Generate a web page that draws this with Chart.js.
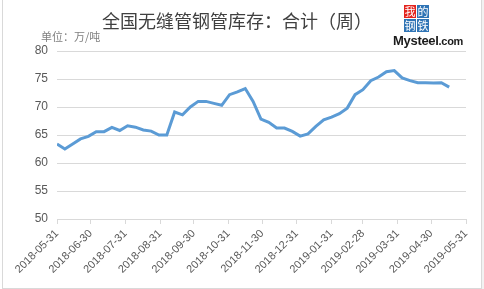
<!DOCTYPE html>
<html>
<head>
<meta charset="utf-8">
<script src="https://cdn.jsdelivr.net/npm/chart.js@4"></script>
<style>
  html, body { margin: 0; padding: 0; background: #fff; }
  #wrap { position: relative; width: 484px; height: 289px; overflow: hidden; }
  #frame { position: absolute; left: 2px; top: -1px; width: 478px; height: 288px; border: 1px solid #d9d9d9; }
  #side { position: absolute; left: 482px; top: 0; width: 2px; height: 289px; background: #f2f2f2; }
  #title { position: absolute; left: 0; width: 474px; top: 7px; text-align: center;
           font: 18px "Noto Sans CJK SC"; color: #404040; }
  #unit { position: absolute; left: 41px; top: 28px; font: 11px "Noto Sans CJK SC"; color: #7f7f7f; }
  #logo { position: absolute; left: 393px; top: 3px; width: 70px; height: 48px; }
  .sq { position: absolute; width: 12px; height: 13px; color: #fff; font: 11px/13px "Noto Sans CJK SC";
        text-align: center; }
  #brand { position: absolute; left: 0; top: 30px; font: bold 13px "Liberation Sans"; color: #1a1a1a; letter-spacing: -0.3px; }
  #brand span { font-size: 11px; }
  canvas { position: absolute; left: 0; top: 0; }
</style>
</head>
<body>
<div id="wrap">
  <div id="frame"></div>
  <div id="side"></div>
  <canvas id="chart" width="484" height="289"></canvas>
  <div id="title">全国无缝管钢管库存：合计（周）</div>
  <div id="unit">单位：万/吨</div>
  <div id="logo">
    <div class="sq" style="left:11px;top:2px;background:#e3231d">我</div>
    <div class="sq" style="left:24px;top:2px;background:#2f74b5">的</div>
    <div class="sq" style="left:11px;top:16px;background:#2f74b5">钢</div>
    <div class="sq" style="left:24px;top:16px;background:#2f74b5">铁</div>
    <div id="brand">Mysteel<span>.com</span></div>
  </div>
</div>
<script>
// weekly inventory, 万吨
const dates = [
  '2018-05-31', '2018-06-07', '2018-06-14', '2018-06-21', '2018-06-28',
  '2018-07-05', '2018-07-12', '2018-07-19', '2018-07-26', '2018-08-02',
  '2018-08-09', '2018-08-16', '2018-08-23', '2018-08-30', '2018-09-06',
  '2018-09-13', '2018-09-20', '2018-09-27', '2018-10-04', '2018-10-11',
  '2018-10-18', '2018-10-25', '2018-11-01', '2018-11-08', '2018-11-15',
  '2018-11-22', '2018-11-29', '2018-12-06', '2018-12-13', '2018-12-20',
  '2018-12-27', '2019-01-03', '2019-01-10', '2019-01-17', '2019-01-24',
  '2019-01-31', '2019-02-07', '2019-02-14', '2019-02-21', '2019-02-28',
  '2019-03-07', '2019-03-14', '2019-03-21', '2019-03-28', '2019-04-04',
  '2019-04-11', '2019-04-18', '2019-04-25', '2019-05-02', '2019-05-09',
  '2019-05-16'
];
const stock = [
  63.4, 62.5, 63.4, 64.3, 64.75, 65.6, 65.6, 66.35, 65.8, 66.65,
  66.4, 65.9, 65.7, 65.0, 65.0, 69.1, 68.6, 70.0, 71.0, 71.0,
  70.65, 70.3, 72.2, 72.7, 73.3, 71.0, 67.85, 67.25, 66.25, 66.25,
  65.65, 64.8, 65.2, 66.55, 67.7, 68.2, 68.8, 69.8, 72.2, 73.1,
  74.7, 75.35, 76.3, 76.5, 75.2, 74.7, 74.35, 74.35, 74.3, 74.35,
  73.55
];
const tickDates = [
  '2018-05-31', '2018-06-30', '2018-07-31', '2018-08-31', '2018-09-30',
  '2018-10-31', '2018-11-30', '2018-12-31', '2019-01-31', '2019-02-28',
  '2019-03-31', '2019-04-30', '2019-05-31'
];
const yTicks = [50, 55, 60, 65, 70, 75, 80];

const DAY = 86400000;
const t0 = Date.parse(tickDates[0]);
const dayOf = s => (Date.parse(s) - t0) / DAY;
const tickDays = tickDates.map(dayOf);
const labelOf = {};
tickDates.forEach((d, i) => { labelOf[tickDays[i]] = d; });

new Chart(document.getElementById('chart'), {
  type: 'line',
  data: {
    datasets: [{
      data: dates.map((d, i) => ({ x: dayOf(d), y: stock[i] })),
      borderColor: '#5b9bd5',
      borderWidth: 3,
      pointRadius: 0,
      tension: 0,
      fill: false
    }]
  },
  options: {
    responsive: false,
    animation: false,
    layout: { padding: { left: 0, right: 18, top: 51, bottom: 0 } },
    plugins: { legend: { display: false }, tooltip: { enabled: false } },
    scales: {
      x: {
        type: 'linear',
        min: tickDays[0],
        max: tickDays[tickDays.length - 1],
        afterBuildTicks: s => { s.ticks = tickDays.map(v => ({ value: v })); },
        afterFit: s => { s.height = 70; },
        grid: { drawOnChartArea: false, drawTicks: true, tickLength: 5, color: '#d9d9d9' },
        border: { display: true, color: '#d9d9d9' },
        ticks: {
          autoSkip: false,
          maxRotation: 45,
          minRotation: 45,
          padding: 3,
          color: '#595959',
          font: { family: 'Liberation Sans', size: 11 },
          callback: v => labelOf[v] || ''
        }
      },
      y: {
        min: 50,
        max: 80,
        afterBuildTicks: s => { s.ticks = yTicks.map(v => ({ value: v })); },
        afterFit: s => { s.width = 57; },
        grid: { color: '#d9d9d9', drawTicks: false },
        border: { display: false },
        ticks: {
          padding: 9,
          color: '#595959',
          font: { family: 'Liberation Sans', size: 12 }
        }
      }
    }
  }
});
</script>
</body>
</html>
